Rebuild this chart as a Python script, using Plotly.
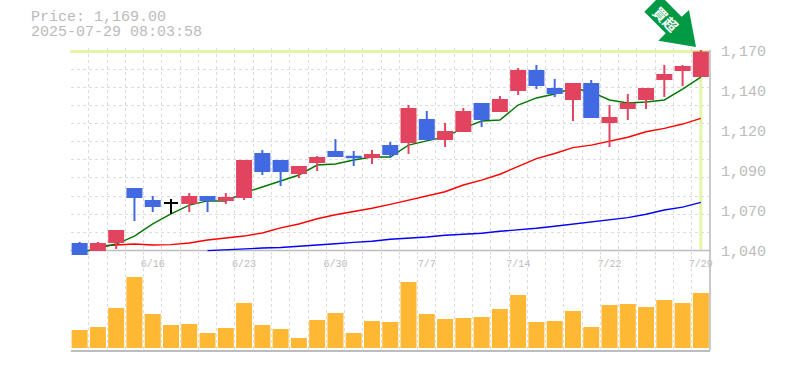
import plotly.graph_objects as go

dates = ["6/10","6/11","6/12","6/13","6/16","6/17","6/18","6/19","6/20","6/23","6/24","6/25","6/26","6/27","6/30",
         "7/1","7/2","7/3","7/4","7/7","7/8","7/9","7/10","7/11","7/14","7/15","7/16","7/17","7/18","7/22",
         "7/23","7/24","7/25","7/28","7/29"]
opens = [1044.2,1040.3,1045.5,1080.1,1072.3,1071.0,1071.0,1074.9,1072.9,1074.9,1102.9,1098.3,1090.5,1097.7,1104.2,
         1101.1,1100.9,1108.1,1110.7,1125.0,1112.7,1117.9,1135.5,1130.9,1144.6,1157.0,1145.2,1138.7,1148.5,1123.7,
         1132.9,1138.7,1151.7,1157.6,1153.7]
highs = [1045.5,1045.5,1053.4,1080.7,1075.5,1073.6,1077.5,1075.5,1077.5,1099.0,1105.5,1099.0,1095.1,1101.6,1112.7,
         1104.8,1105.5,1110.7,1134.8,1130.9,1123.1,1132.9,1136.1,1140.7,1158.9,1160.9,1151.7,1149.1,1151.1,1134.8,
         1142.0,1145.9,1160.9,1160.9,1170.6]
lows = [1037.1,1039.7,1041.0,1059.2,1065.1,1063.8,1065.1,1065.1,1070.3,1072.9,1089.2,1082.0,1087.2,1091.8,1100.9,
        1095.1,1096.4,1100.3,1102.9,1111.4,1107.4,1117.2,1120.5,1130.2,1141.3,1145.2,1140.0,1124.4,1126.3,1107.4,
        1125.0,1132.2,1140.0,1147.2,1153.0]
closes = [1037.7,1044.2,1052.7,1074.9,1069.0,1071.0,1074.9,1072.9,1074.2,1098.3,1091.8,1091.8,1094.4,1100.3,1101.6,
          1100.7,1102.2,1102.9,1132.2,1112.7,1117.2,1130.2,1125.7,1138.1,1157.0,1147.8,1142.6,1148.5,1127.0,1126.3,
          1135.5,1145.2,1154.4,1159.6,1169.0]
ma_short = [1038.4,1041.6,1044.2,1049.4,1057.3,1063.8,1069.6,1072.3,1072.3,1077.5,1081.4,1085.3,1089.2,1095.7,1096.4,
            1099.0,1100.9,1100.9,1108.7,1111.4,1114.0,1119.8,1124.4,1125.0,1134.8,1139.4,1142.0,1145.9,1143.3,1138.1,
            1136.1,1136.8,1138.1,1145.2,1153.0]
ma_mid = [None,1042.9,1043.6,1044.2,1043.6,1043.8,1044.9,1046.8,1048.1,1049.4,1051.4,1054.7,1057.3,1060.7,1063.3,
          1065.3,1067.5,1070.1,1072.9,1075.3,1078.3,1082.7,1085.9,1089.7,1094.6,1099.9,1103.2,1107.0,1108.7,1111.2,
          1113.8,1117.4,1119.6,1122.4,1126.1]
ma_long = [None,None,None,None,None,None,None,1039.9,1040.5,1041.3,1041.6,1042.0,1042.7,1043.4,1044.4,
           1045.3,1046.0,1047.3,1047.9,1048.8,1049.9,1050.6,1051.2,1052.5,1053.4,1054.5,1055.8,1057.1,1058.6,1059.9,
           1061.4,1063.6,1066.4,1068.3,1071.4]
volumes = [18,21,40,71,34,23,24,15,20,45,23,19,10,28,35,15,27,26,66,34,29,30,31,39,53,26,27,37,21,43,44,41,48,45,55]
date_ticks = ["6/16","6/23","6/30","7/7","7/14","7/22","7/29"]
price_ticks = [1040,1066,1092,1118,1144,1170]
price_labels = ["1,040","1,070","1,090","1,120","1,140","1,170"]
price_text = "Price: 1,169.00"
time_text = "2025-07-29 08:03:58"
arrow_text = "買超"

W, H = 785, 370
RED, BLUE, ORANGE = "#e2435f", "#4169e1", "#ffb833"
GRID, AXIS, TEXT, HILITE, ARROW = "#dddddd", "#bdbdbd", "#bbbbbb", "#e2f6a6", "#009944"
MONO = "Liberation Mono"

def fx(px): return px / W
def fy(py): return 1 - py / H

idx = list(range(len(dates)))
k = 199.5 / 130           # px per yen
y_range = [1040 - 5.5 / k, 1170 + 3 / k]
dom_price = [fy(256), fy(48)]
dom_vol = [fy(350), fy(256)]
vert_grid = [i - 0.5 for i in range(len(dates) + 1)]
horiz_grid = [1040 + 130 / 11 * i for i in range(1, 11)]
date_pos = [dates.index(d) for d in date_ticks]

fig = go.Figure()
fig.add_trace(go.Scatter(x=idx, y=ma_long, mode="lines", line=dict(color="#0000ff", width=1.4), xaxis="x", yaxis="y", hoverinfo="skip"))
fig.add_trace(go.Scatter(x=idx, y=ma_mid, mode="lines", line=dict(color="#ff0000", width=1.4), xaxis="x", yaxis="y", hoverinfo="skip"))
fig.add_trace(go.Scatter(x=idx, y=ma_short, mode="lines", line=dict(color="#007700", width=1.4), xaxis="x", yaxis="y", hoverinfo="skip"))

body = [i for i in idx if opens[i] != closes[i]]
doji = [i for i in idx if opens[i] == closes[i]]
fig.add_trace(go.Candlestick(
    x=body, open=[opens[i] for i in body], high=[highs[i] for i in body],
    low=[lows[i] for i in body], close=[closes[i] for i in body],
    increasing=dict(line=dict(color=RED, width=2), fillcolor=RED),
    decreasing=dict(line=dict(color=BLUE, width=2), fillcolor=BLUE),
    whiskerwidth=0, xaxis="x", yaxis="y3", hoverinfo="skip"))
fig.add_trace(go.Candlestick(
    x=doji, open=[opens[i] for i in doji], high=[highs[i] for i in doji],
    low=[lows[i] for i in doji], close=[closes[i] for i in doji],
    increasing=dict(line=dict(color="#000000", width=2), fillcolor="#000000"),
    decreasing=dict(line=dict(color="#000000", width=2), fillcolor="#000000"),
    whiskerwidth=0, xaxis="x", yaxis="y3", hoverinfo="skip"))
fig.add_trace(go.Bar(x=idx, y=volumes, marker=dict(color=ORANGE, line=dict(width=0)), width=0.875,
                     xaxis="x2", yaxis="y2", hoverinfo="skip"))

minor_x = dict(tickvals=vert_grid, showgrid=True, gridcolor=GRID, griddash="3px,3px", gridwidth=1, ticks="")
shapes = [
    dict(type="line", xref="x domain", x0=0, x1=1, yref="y", y0=1040, y1=1040, line=dict(color=AXIS, width=1.6), layer="below"),
    dict(type="line", xref="x domain", x0=0, x1=1, yref="y", y0=1169.6, y1=1169.6, line=dict(color=HILITE, width=3), layer="below"),
    dict(type="line", xref="x", x0=idx[-1], x1=idx[-1], yref="y", y0=1041, y1=1170, line=dict(color=HILITE, width=3), layer="below"),
    dict(type="line", xref="paper", x0=fx(710), x1=fx(710), yref="paper", y0=fy(350), y1=fy(50), line=dict(color=AXIS, width=1.6), layer="above"),
    dict(type="path", xref="paper", yref="paper", fillcolor=ARROW, line=dict(width=0), layer="above",
         path="M {} {} L {} {} L {} {} L {} {} L {} {} L {} {} L {} {} Z".format(
             fx(644.3), fy(11.7), fx(660.5), fy(-4.5), fx(681.7), fy(16.7), fx(689), fy(10),
             fx(696), fy(47), fx(658.3), fy(40.7), fx(665.7), fy(33.3))),
]
annotations = [
    dict(text=price_text, xref="paper", yref="paper", x=fx(28.5), y=fy(18), xanchor="left", yanchor="middle",
         showarrow=False, font=dict(family=MONO, size=15, color=TEXT)),
    dict(text=time_text, xref="paper", yref="paper", x=fx(28.5), y=fy(32), xanchor="left", yanchor="middle",
         showarrow=False, font=dict(family=MONO, size=15, color=TEXT)),
    dict(text=arrow_text, xref="paper", yref="paper", x=fx(666), y=fy(19), xanchor="center", yanchor="middle",
         textangle=45, showarrow=False, font=dict(family="Noto Sans CJK JP", size=14, color="#ffffff", weight="bold")),
]

fig.update_layout(
    width=W, height=H, margin=dict(l=0, r=0, t=0, b=0, autoexpand=False), paper_bgcolor="#ffffff", plot_bgcolor="#ffffff",
    showlegend=False, boxgap=0.234, boxgroupgap=0, bargap=0.125, shapes=shapes, annotations=annotations,
    xaxis=dict(domain=[fx(70.5), fx(710)], range=[-0.5, len(dates) - 0.5], anchor="y", showgrid=False, zeroline=False,
               rangeslider=dict(visible=False), tickmode="array", tickvals=date_pos, ticktext=date_ticks,
               tickfont=dict(family=MONO, size=10, color=TEXT), ticks="", minor=minor_x, showline=False),
    xaxis2=dict(domain=[fx(70.5), fx(710)], range=[-0.5, len(dates) - 0.5], anchor="y2", showgrid=False, zeroline=False,
                showticklabels=False, ticks="", minor=minor_x, showline=True, linecolor=AXIS, linewidth=1.6),
    yaxis=dict(domain=dom_price, range=y_range, anchor="x", side="right", showgrid=False, zeroline=False,
               tickmode="array", tickvals=price_ticks, ticktext=price_labels, ticks="", ticklabelstandoff=10,
               tickfont=dict(family=MONO, size=15, color=TEXT),
               minor=dict(tickvals=horiz_grid, showgrid=True, gridcolor=GRID, griddash="3px,3px", gridwidth=1, ticks="")),
    yaxis2=dict(domain=dom_vol, range=[-2, 92], anchor="x2", showgrid=False, zeroline=False, showticklabels=False, ticks=""),
    yaxis3=dict(range=y_range, overlaying="y", anchor="x", side="right", visible=False, showgrid=False, zeroline=False),
)

fig.write_html("out.html", config=dict(displayModeBar=False),
               post_script="document.body.style.margin='0';")
